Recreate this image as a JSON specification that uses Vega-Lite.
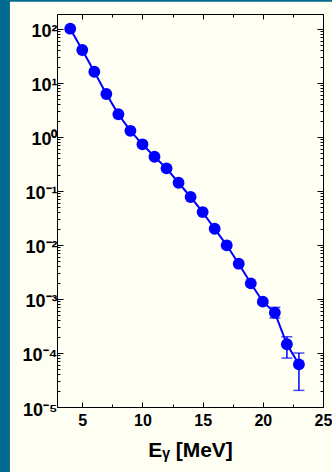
{
  "$schema": "https://vega.github.io/schema/vega-lite/v6.json",
  "width": 266,
  "height": 393,
  "autosize": {"type": "none"},
  "padding": {"left": 57, "top": 14, "right": 9, "bottom": 65},
  "background": "#006b8e",
  "config": {
    "view": {"stroke": null},
    "axis": {
      "grid": false,
      "domainColor": "#000000",
      "domainWidth": 1,
      "tickColor": "#000000",
      "tickWidth": 1,
      "labelColor": "#000000",
      "labelFont": "Liberation Sans",
      "labelFontWeight": "bold",
      "labelOverlap": false,
      "labelFlush": false,
      "titleFont": "Liberation Sans",
      "titleFontWeight": "bold",
      "titleColor": "#000000"
    }
  },
  "datasets": {
    "spectrum": [
      {"E": 4, "Y": 101},
      {"E": 5, "Y": 40.7},
      {"E": 6, "Y": 16.1},
      {"E": 7, "Y": 6.24},
      {"E": 8, "Y": 2.63},
      {"E": 9, "Y": 1.30},
      {"E": 10, "Y": 0.731},
      {"E": 11, "Y": 0.430},
      {"E": 12, "Y": 0.262},
      {"E": 13, "Y": 0.142},
      {"E": 14, "Y": 0.0773},
      {"E": 15, "Y": 0.0407},
      {"E": 16, "Y": 0.0200},
      {"E": 17, "Y": 0.00986},
      {"E": 18, "Y": 0.00450},
      {"E": 19, "Y": 0.00195},
      {"E": 20, "Y": 0.000891},
      {"E": 21, "Y": 0.000557},
      {"E": 22, "Y": 0.000145},
      {"E": 23, "Y": 0.0000617}
    ],
    "errors": [
      {"E": 21, "lo": 0.000444, "hi": 0.00070},
      {"E": 22, "lo": 0.0000805, "hi": 0.000200},
      {"E": 23, "lo": 0.0000203, "hi": 0.0000998}
    ],
    "panel": [{"x0": -1.01, "x1": 27, "y0": 1e-7, "y1": 320}]
  },
  "resolve": {"axis": {"x": "independent", "y": "independent"}},
  "layer": [
    {
      "data": {"name": "panel"},
      "mark": {"type": "rect", "color": "#fefef3"},
      "encoding": {
        "x": {"field": "x0", "type": "quantitative", "scale": {"domain": [2.9, 25]}, "axis": null},
        "x2": {"field": "x1"},
        "y": {"field": "y0", "type": "quantitative", "scale": {"type": "log", "domain": [0.00001, 189]}, "axis": null},
        "y2": {"field": "y1"}
      }
    },
    {
      "data": {"name": "errors"},
      "mark": {"type": "rule", "color": "#0000ff", "strokeWidth": 1.5},
      "encoding": {
        "x": {"field": "E", "type": "quantitative", "scale": {"domain": [2.9, 25]}, "axis": null},
        "y": {"field": "lo", "type": "quantitative", "scale": {"type": "log", "domain": [0.00001, 189]}, "axis": null},
        "y2": {"field": "hi"}
      }
    },
    {
      "data": {"name": "errors"},
      "mark": {"type": "tick", "orient": "horizontal", "color": "#0000ff", "size": 11, "thickness": 1.5},
      "encoding": {
        "x": {"field": "E", "type": "quantitative", "scale": {"domain": [2.9, 25]}, "axis": null},
        "y": {"field": "lo", "type": "quantitative", "scale": {"type": "log", "domain": [0.00001, 189]}, "axis": null}
      }
    },
    {
      "data": {"name": "errors"},
      "mark": {"type": "tick", "orient": "horizontal", "color": "#0000ff", "size": 11, "thickness": 1.5},
      "encoding": {
        "x": {"field": "E", "type": "quantitative", "scale": {"domain": [2.9, 25]}, "axis": null},
        "y": {"field": "hi", "type": "quantitative", "scale": {"type": "log", "domain": [0.00001, 189]}, "axis": null}
      }
    },
    {
      "data": {"name": "spectrum"},
      "mark": {"type": "line", "color": "#0000ff", "strokeWidth": 2},
      "encoding": {
        "x": {
          "field": "E",
          "type": "quantitative",
          "scale": {"domain": [2.9, 25]},
          "axis": {
            "orient": "bottom",
            "zindex": 2,
            "values": [5, 7.5, 10, 12.5, 15, 17.5, 20, 22.5, 25],
            "labelExpr": "datum.value % 5 == 0 ? '' + datum.value : ''",
            "tickSize": {"condition": {"test": "datum.value % 5 == 0", "value": -5}, "value": -3},
            "labelFontSize": 16,
            "labelPadding": 10,
            "title": "Eᵧ [MeV]",
            "titleFontSize": 21,
            "titlePadding": 9
          }
        },
        "y": {
          "field": "Y",
          "type": "quantitative",
          "scale": {"type": "log", "domain": [0.00001, 189]},
          "axis": {
            "orient": "left",
            "zindex": 2,
            "values": [0.00001, 0.00002, 0.00003, 0.00004, 0.00005, 0.00006, 0.00007, 0.00008, 0.00009,
                       0.0001, 0.0002, 0.0003, 0.0004, 0.0005, 0.0006, 0.0007, 0.0008, 0.0009,
                       0.001, 0.002, 0.003, 0.004, 0.005, 0.006, 0.007, 0.008, 0.009,
                       0.01, 0.02, 0.03, 0.04, 0.05, 0.06, 0.07, 0.08, 0.09,
                       0.1, 0.2, 0.3, 0.4, 0.5, 0.6, 0.7, 0.8, 0.9,
                       1, 2, 3, 4, 5, 6, 7, 8, 9,
                       10, 20, 30, 40, 50, 60, 70, 80, 90, 100],
            "labelExpr": "datum.value == 100 ? '10²' : datum.value == 10 ? '10¹' : datum.value == 1 ? '10⁰' : datum.value == 0.1 ? '10⁻¹' : datum.value == 0.01 ? '10⁻²' : datum.value == 0.001 ? '10⁻³' : datum.value == 0.0001 ? '10⁻⁴' : datum.value == 0.00001 ? '10⁻⁵' : ''",
            "tickSize": {"condition": {"test": "indexof([100, 10, 1, 0.1, 0.01, 0.001, 0.0001, 0.00001], datum.value) >= 0", "value": -6}, "value": -3},
            "labelFontSize": 18,
            "labelPadding": 6,
            "labelOffset": 3,
            "title": null
          }
        }
      }
    },
    {
      "data": {"name": "spectrum"},
      "mark": {"type": "circle", "color": "#0000ff", "size": 140, "opacity": 1},
      "encoding": {
        "x": {
          "field": "E",
          "type": "quantitative",
          "scale": {"domain": [2.9, 25]},
          "axis": {
            "orient": "top",
            "zindex": 2,
            "values": [5, 7.5, 10, 12.5, 15, 17.5, 20, 22.5, 25],
            "labels": false,
            "tickSize": {"condition": {"test": "datum.value % 5 == 0", "value": -5}, "value": -3},
            "title": null
          }
        },
        "y": {
          "field": "Y",
          "type": "quantitative",
          "scale": {"type": "log", "domain": [0.00001, 189]},
          "axis": {
            "orient": "right",
            "zindex": 2,
            "values": [0.00001, 0.00002, 0.00003, 0.00004, 0.00005, 0.00006, 0.00007, 0.00008, 0.00009,
                       0.0001, 0.0002, 0.0003, 0.0004, 0.0005, 0.0006, 0.0007, 0.0008, 0.0009,
                       0.001, 0.002, 0.003, 0.004, 0.005, 0.006, 0.007, 0.008, 0.009,
                       0.01, 0.02, 0.03, 0.04, 0.05, 0.06, 0.07, 0.08, 0.09,
                       0.1, 0.2, 0.3, 0.4, 0.5, 0.6, 0.7, 0.8, 0.9,
                       1, 2, 3, 4, 5, 6, 7, 8, 9,
                       10, 20, 30, 40, 50, 60, 70, 80, 90, 100],
            "labels": false,
            "tickSize": {"condition": {"test": "indexof([100, 10, 1, 0.1, 0.01, 0.001, 0.0001, 0.00001], datum.value) >= 0", "value": -6}, "value": -3},
            "title": null
          }
        }
      }
    }
  ]
}
